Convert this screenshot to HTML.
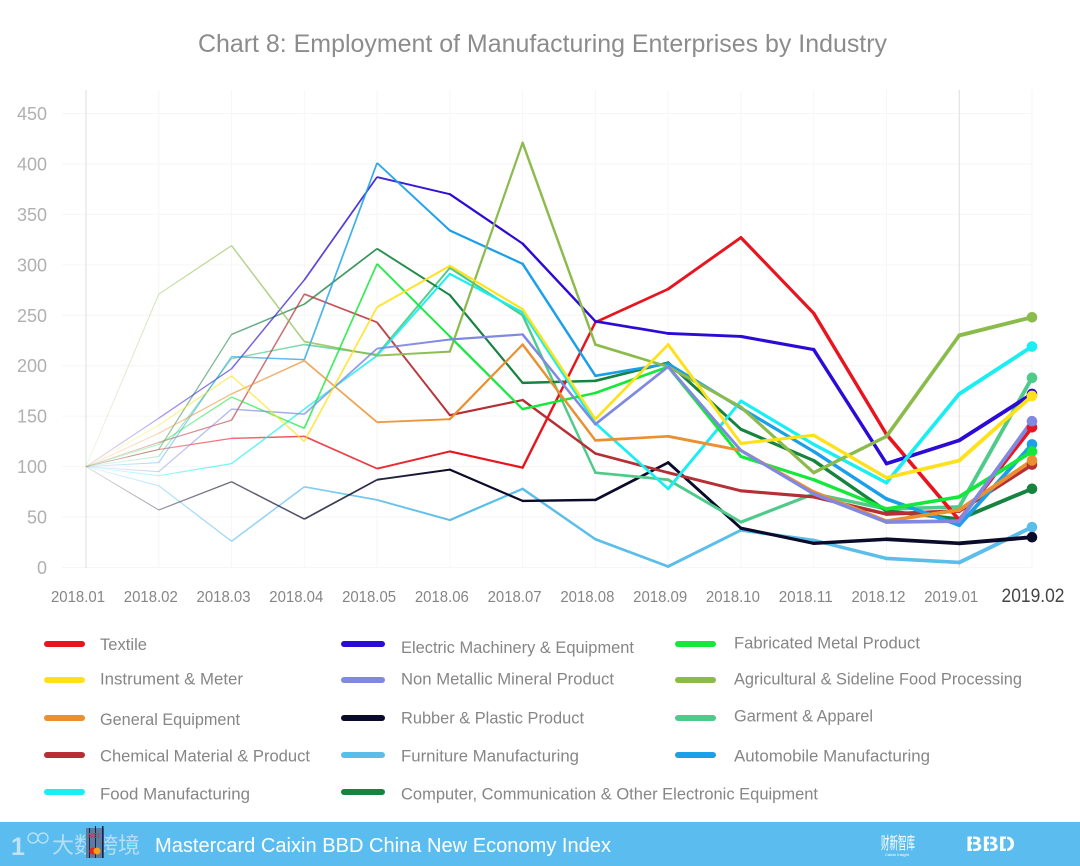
<!DOCTYPE html>
<html lang="en">
<head>
<meta charset="utf-8">
<title>Chart 8: Employment of Manufacturing Enterprises by Industry</title>
<style>
html,body{margin:0;padding:0;background:#fff}
svg{display:block;font-family:"Liberation Sans","Noto Sans CJK SC",sans-serif}
.lg{font-size:16.5px;fill:#868686}
</style>
</head>
<body>
<svg id="chart" width="1080" height="866" viewBox="0 0 1080 866" xmlns="http://www.w3.org/2000/svg">
  <defs id="defs"></defs>
  <rect x="0" y="0" width="1080" height="866" fill="#ffffff"/>
  <text x="198" y="52" font-size="25" fill="#8c8c8c" textLength="689" lengthAdjust="spacingAndGlyphs">Chart 8: Employment of Manufacturing Enterprises by Industry</text>
  <g id="grid"></g>
  <g id="yaxis"></g>
  <g id="xaxis"></g>
  <g id="lines"></g>
  <g id="dots"></g>

  <g>
    <g><rect x="44" y="641" width="41" height="6" rx="3" fill="#e8141e"/><text class="lg" x="100" y="650" textLength="47" lengthAdjust="spacingAndGlyphs">Textile</text></g>
    <g><rect x="44" y="677" width="41" height="6" rx="3" fill="#ffe119"/><text class="lg" x="100" y="684.5" textLength="143" lengthAdjust="spacingAndGlyphs">Instrument &amp; Meter</text></g>
    <g><rect x="44" y="715" width="41" height="6" rx="3" fill="#ea9030"/><text class="lg" x="100" y="725" textLength="140" lengthAdjust="spacingAndGlyphs">General Equipment</text></g>
    <g><rect x="44" y="752" width="41" height="6" rx="3" fill="#b52f35"/><text class="lg" x="100" y="761.5" textLength="210" lengthAdjust="spacingAndGlyphs">Chemical Material &amp; Product</text></g>
    <g><rect x="44" y="789" width="41" height="6" rx="3" fill="#19eef2"/><text class="lg" x="100" y="799.5" textLength="150" lengthAdjust="spacingAndGlyphs">Food Manufacturing</text></g>

    <g><rect x="341" y="641" width="44" height="6" rx="3" fill="#2b0bd6"/><text class="lg" x="401" y="653" textLength="233" lengthAdjust="spacingAndGlyphs">Electric Machinery &amp; Equipment</text></g>
    <g><rect x="341" y="677" width="44" height="6" rx="3" fill="#8088e0"/><text class="lg" x="401" y="684.5" textLength="213" lengthAdjust="spacingAndGlyphs">Non Metallic Mineral Product</text></g>
    <g><rect x="341" y="715" width="44" height="6" rx="3" fill="#0a0a2a"/><text class="lg" x="401" y="723.5" textLength="183" lengthAdjust="spacingAndGlyphs">Rubber &amp; Plastic Product</text></g>
    <g><rect x="341" y="752" width="44" height="6" rx="3" fill="#5bbde9"/><text class="lg" x="401" y="761.5" textLength="178" lengthAdjust="spacingAndGlyphs">Furniture Manufacturing</text></g>
    <g><rect x="341" y="789" width="44" height="6" rx="3" fill="#16833f"/><text class="lg" x="401" y="799.5" textLength="417" lengthAdjust="spacingAndGlyphs">Computer, Communication &amp; Other Electronic Equipment</text></g>

    <g><rect x="675" y="641" width="41" height="6" rx="3" fill="#14e83a"/><text class="lg" x="734" y="648.5" textLength="186" lengthAdjust="spacingAndGlyphs">Fabricated Metal Product</text></g>
    <g><rect x="675" y="677" width="41" height="6" rx="3" fill="#8bbb4b"/><text class="lg" x="734" y="684.5" textLength="288" lengthAdjust="spacingAndGlyphs">Agricultural &amp; Sideline Food Processing</text></g>
    <g><rect x="675" y="715" width="41" height="6" rx="3" fill="#4ecb8a"/><text class="lg" x="734" y="721.5" textLength="139" lengthAdjust="spacingAndGlyphs">Garment &amp; Apparel</text></g>
    <g><rect x="675" y="752" width="41" height="6" rx="3" fill="#1a9fe8"/><text class="lg" x="734" y="761.5" textLength="196" lengthAdjust="spacingAndGlyphs">Automobile Manufacturing</text></g>
  </g>

  <g>
    <rect x="0" y="822" width="1080" height="44" fill="#5bbdef"/>
    <g>
      <text x="11" y="855" font-size="25" font-weight="bold" fill="#bfe3f6">1</text>
      <circle cx="33" cy="838" r="5" fill="none" stroke="#bfe3f6" stroke-width="1.3"/>
      <circle cx="43" cy="838" r="5" fill="none" stroke="#bfe3f6" stroke-width="1.3"/>
      <text x="52" y="853" font-size="22" fill="#b5def5" textLength="88" lengthAdjust="spacingAndGlyphs">大数跨境</text>
    </g>
    <g>
      <rect x="86" y="828" width="18" height="30" fill="#5a7ba3"/>
      <rect x="89" y="828" width="1" height="30" fill="#1a2340"/>
      <rect x="95" y="826" width="1" height="32" fill="#1a2340"/>
      <rect x="102" y="826" width="1.5" height="32" fill="#1a2340"/>
      <text x="88" y="838" font-size="7" font-weight="bold" fill="#d8324a">NEI</text>
      <circle cx="93" cy="851" r="3.5" fill="#e8261c"/>
      <circle cx="97" cy="851" r="3.5" fill="#f5a01e"/>
    </g>
    <text x="155" y="852" font-size="20" fill="#ffffff" textLength="456" lengthAdjust="spacingAndGlyphs">Mastercard Caixin BBD China New Economy Index</text>
    <g>
      <text x="881" y="849" font-size="17" fill="#ffffff" textLength="34" lengthAdjust="spacingAndGlyphs">财新智库</text>
      <text x="897" y="856" font-size="4" fill="#ffffff" text-anchor="middle">Caixin Insight</text>
    </g>
    <g>
      <text x="966" y="851" font-size="21" font-weight="bold" fill="#ffffff" textLength="49" lengthAdjust="spacingAndGlyphs">BBD</text>
      <rect x="972" y="834" width="1.2" height="20" fill="#5bbdef"/>
      <rect x="989" y="834" width="1.2" height="20" fill="#5bbdef"/>
      <rect x="1006" y="834" width="1.2" height="20" fill="#5bbdef"/>
    </g>
  </g>
</svg>

<script>
// Chart data (index values)
var categories = ['2018.01','2018.02','2018.03','2018.04','2018.05','2018.06','2018.07','2018.08','2018.09','2018.10','2018.11','2018.12','2019.01','2019.02'];
var yTicks = [0,50,100,150,200,250,300,350,400,450];

var furniture    = [100, 81, 26, 80, 67, 47, 78, 28,  1, 37, 27,  9,  5, 40];
var rubber       = [100, 57, 85, 48, 87, 97, 66, 67,104, 39, 24, 28, 24, 30];
var garment      = [100,110,207,221,211,297,250, 94, 87, 45, 73, 58, 60,188];
var computer     = [100,117,231,261,316,270,183,185,203,137,106, 56, 48, 78];
var chemical     = [100,124,146,271,243,151,166,113, 94, 76, 70, 53, 56,102];
var textile      = [100,117,128,130, 98,115, 99,243,276,327,252,132, 47,139];
var electric     = [100,148,197,285,387,370,321,244,232,229,216,103,126,172];
var automobile   = [100,104,209,206,401,334,301,190,202,158,115, 68, 42,122];
var food         = [100, 91,103,157,210,291,253,143, 78,165,122, 84,172,219];
var agricultural = [100,271,319,224,210,214,421,221,199,159, 94,130,230,248];
var fabricated   = [100,122,169,138,301,229,157,173,199,110, 87, 58, 70,115];
var general      = [100,133,172,205,144,147,221,126,130,116, 75, 46, 57,106];
var nonMetallic  = [100, 95,157,152,217,226,231,142,199,116, 73, 45, 46,145];
var instrument   = [100,141,190,125,258,299,256,147,221,123,131, 89,106,170];

var seriesNames = ['furniture','rubber','garment','computer','chemical','textile','electric','automobile','food','agricultural','fabricated','general','non-metallic','instrument'];
var seriesValues = [furniture,rubber,garment,computer,chemical,textile,electric,automobile,food,agricultural,fabricated,general,nonMetallic,instrument];
var seriesColors = ['#5bbde9','#0a0a2a','#4ecb8a','#16833f','#b52f35','#e8141e','#2b0bd6','#1a9fe8','#19eef2','#8bbb4b','#14e83a','#ea9030','#8088e0','#ffe119'];

var NS = 'http://www.w3.org/2000/svg';
function xScale(i){ return 86 + i * (1032 - 86) / (categories.length - 1); }
function yScale(v){ return 567.5 - v * 1.0089; }
function make(tag, attrs, parent){
  var el = document.createElementNS(NS, tag);
  for (var k in attrs) el.setAttribute(k, attrs[k]);
  parent.appendChild(el);
  return el;
}

var grid = document.getElementById('grid');
var yaxis = document.getElementById('yaxis');
var xaxis = document.getElementById('xaxis');
var linesG = document.getElementById('lines');
var dotsG = document.getElementById('dots');
var defs = document.getElementById('defs');

yTicks.forEach(function(t){
  var gl = make('line', {x1:62, x2:1032, y1:yScale(t), y2:yScale(t), stroke:'#f6f6f6', 'stroke-width':1}, grid);
  
  
  var lb = make('text', {x:47, y:yScale(t)+6.5, 'text-anchor':'end', 'font-size':18, fill:'#b0b0b0'}, yaxis);
  
  
  lb.textContent = t;
});

categories.forEach(function(c, i){
  var strong = (i === 0 || i === 12);
  var vl = make('line', {x1:xScale(i), x2:xScale(i), y1:90, y2:568, stroke:strong?'#dddddd':'#f6f6f6', 'stroke-width':1}, grid);
  
  
  var last = i === categories.length - 1;
  var lb = make('text', {
    x: last ? xScale(i) + 1 : xScale(i) - 8,
    y: 602,
    'text-anchor':'middle',
    'font-size': last ? 19 : 15.5,
    fill: last ? '#444444' : '#858585',
    textLength: last ? 63 : 54,
    lengthAdjust:'spacingAndGlyphs'
  }, xaxis);
  
  
  lb.textContent = c;
});

seriesValues.forEach(function(vals, s){
  var gid = 'fade' + s;
  var grad = make('linearGradient', {id:gid, gradientUnits:'userSpaceOnUse', x1:xScale(0), y1:0, x2:xScale(5), y2:0}, defs);
  make('stop', {offset:'0', 'stop-color':seriesColors[s], 'stop-opacity':'0.12'}, grad);
  make('stop', {offset:'0.3', 'stop-color':seriesColors[s], 'stop-opacity':'0.55'}, grad);
  make('stop', {offset:'1', 'stop-color':seriesColors[s], 'stop-opacity':'1'}, grad);
  var g = make('g', {}, linesG);
  
  
  for (var i = 0; i < vals.length - 1; i++){
    var x1 = xScale(i), x2 = xScale(i + 1), y1 = yScale(vals[i]), y2 = yScale(vals[i + 1]);
    var seg = make('path', {
      d: 'M' + x1 + ' ' + y1 + 'L' + x2 + ' ' + y2,
      fill: 'none',
      stroke: i < 5 ? 'url(#' + gid + ')' : seriesColors[s],
      'stroke-width': 1 + 2.9 * i / 12,
      'stroke-linecap': i < 5 ? 'butt' : 'round'
    }, g);
    
    
  }
  var dot = make('circle', {cx:xScale(vals.length - 1), cy:yScale(vals[vals.length - 1]), r:5.3, fill:seriesColors[s]}, dotsG);
  
  
});
</script>
</body>
</html>
